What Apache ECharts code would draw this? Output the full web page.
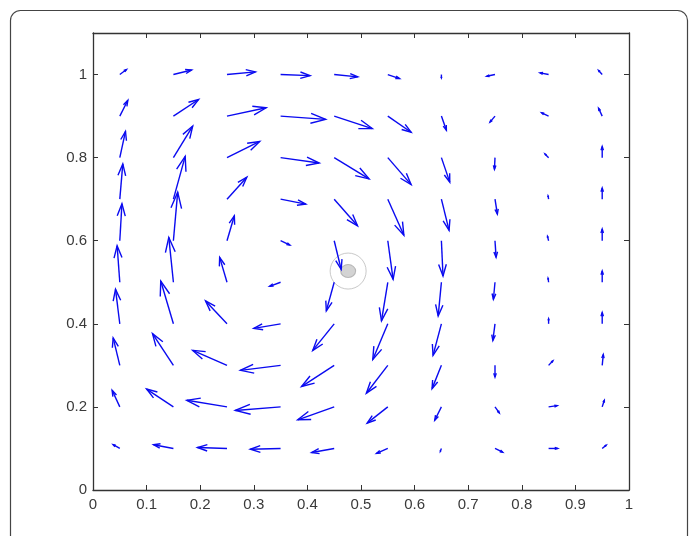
<!DOCTYPE html>
<html>
<head>
<meta charset="utf-8">
<script src="https://cdn.jsdelivr.net/npm/echarts@6/dist/echarts.min.js"></script>
<style>
  html, body { margin: 0; padding: 0; background: #fff; }
  #chart { width: 689px; height: 536px; }
</style>
</head>
<body>
<div id="chart"></div>
<script>
// grid positions of the arrow tails
var xs = [0.05, 0.15, 0.25, 0.35, 0.45, 0.55, 0.65, 0.75, 0.85, 0.95];
var ys = [0.1, 0.2, 0.3, 0.4, 0.5, 0.6, 0.7, 0.8, 0.9, 1.0];

// velocity components, one row per y (bottom to top), one column per x
var U = [
  [-0.0124, -0.037, -0.055, -0.0565, -0.042, -0.021, -0.002, 0.0143, 0.017, 0.0075],
  [-0.0143, -0.050, -0.075, -0.0845, -0.068, -0.0385, -0.0124, 0.008, 0.016, 0.004],
  [-0.0124, -0.039, -0.064, -0.075, -0.061, -0.040, -0.0174, 0.0, 0.008, 0.002],
  [-0.008, -0.0236, -0.040, -0.050, -0.040, -0.028, -0.0156, -0.004, 0.0, 0.0],
  [-0.005, -0.0086, -0.0137, -0.0205, -0.0147, -0.0118, -0.006, -0.003, -0.001, 0.0],
  [0.004, 0.008, 0.0137, 0.0174, 0.013, 0.0099, 0.003, 0.002, -0.002, 0.0],
  [0.0056, 0.022, 0.037, 0.047, 0.0435, 0.030, 0.0143, 0.0044, -0.001, 0.0],
  [0.0106, 0.036, 0.061, 0.072, 0.065, 0.0435, 0.0156, -0.001, -0.0068, 0.0],
  [0.015, 0.047, 0.073, 0.084, 0.071, 0.0435, 0.0093, -0.0093, -0.013, -0.0068],
  [0.0125, 0.034, 0.053, 0.055, 0.044, 0.022, 0.0, -0.0155, -0.016, -0.0068]
];
var V = [
  [0.009, 0.009, 0.0024, -0.002, -0.0097, -0.012, -0.007, -0.009, 0.0, 0.008],
  [0.040, 0.043, 0.016, -0.0085, -0.031, -0.039, -0.032, -0.0145, 0.003, 0.016],
  [0.066, 0.0765, 0.036, -0.012, -0.051, -0.067, -0.056, -0.028, 0.011, 0.026],
  [0.083, 0.103, 0.055, -0.011, -0.064, -0.086, -0.076, -0.040, 0.012, 0.027],
  [0.088, 0.108, 0.060, -0.0097, -0.069, -0.093, -0.081, -0.041, 0.010, 0.027],
  [0.089, 0.117, 0.060, -0.0105, -0.069, -0.093, -0.085, -0.040, 0.0105, 0.028],
  [0.085, 0.103, 0.053, -0.012, -0.064, -0.087, -0.075, -0.036, 0.008, 0.027],
  [0.063, 0.076, 0.039, -0.013, -0.051, -0.065, -0.059, -0.028, 0.0089, 0.0266],
  [0.038, 0.040, 0.020, -0.008, -0.030, -0.039, -0.034, -0.0145, 0.008, 0.019],
  [0.012, 0.011, 0.0065, -0.0025, -0.0056, -0.0097, -0.008, -0.004, 0.004, 0.0097]
];

// marked point (ring + dot)
var marker = [0.476, 0.527];

var xTicks = [0, 0.1, 0.2, 0.3, 0.4, 0.5, 0.6, 0.7, 0.8, 0.9, 1];
var yTicks = [0, 0.2, 0.4, 0.6, 0.8, 1];

var arrows = [];
for (var i = 0; i < ys.length; i++) {
  for (var j = 0; j < xs.length; j++) {
    arrows.push([xs[j], ys[i], U[i][j], V[i][j]]);
  }
}

var blue = '#0a0af0';
var axisColor = '#333';

function renderArrow(params, api) {
  var x = api.value(0), y = api.value(1);
  var p0 = api.coord([x, y]);
  var p1 = api.coord([x + api.value(2), y + api.value(3)]);
  var du = p1[0] - p0[0], dv = p1[1] - p0[1];
  // matlab quiver style head
  var a = 0.33, b = 0.33;
  var h1 = [p1[0] - a * (du + b * dv), p1[1] - a * (dv - b * du)];
  var h2 = [p1[0] - a * (du - b * dv), p1[1] - a * (dv + b * du)];
  var st = { stroke: blue, lineWidth: 1.4, fill: null };
  return {
    type: 'group',
    children: [
      { type: 'polyline', shape: { points: [p0, p1] }, style: st },
      { type: 'polyline', shape: { points: [h1, p1, h2] }, style: st }
    ]
  };
}

function makeAxis(pos, min, max, interval, ticks, showLabel) {
  return {
    type: 'value',
    position: pos,
    min: min, max: max, interval: interval,
    axisLine: { show: true, onZero: false, lineStyle: { color: axisColor, width: 1.3 } },
    axisTick: { show: true, inside: true, length: 5, customValues: ticks, lineStyle: { color: axisColor } },
    axisLabel: {
      show: showLabel,
      customValues: ticks,
      color: '#3a3a3a',
      fontSize: 15,
      fontFamily: 'Liberation Sans, Arial',
      margin: pos == 'bottom' ? 7 : 6
    },
    splitLine: { show: false }
  };
}

var chart = echarts.init(document.getElementById('chart'));
chart.setOption({
  animation: false,
  backgroundColor: '#fff',
  graphic: [{
    type: 'rect',
    shape: { x: 10.5, y: 10.5, width: 677, height: 600, r: 10 },
    style: { fill: null, stroke: '#444', lineWidth: 1.2 },
    silent: true
  }],
  grid: { left: 93, top: 33, right: 60, bottom: 46 },
  xAxis: [
    makeAxis('bottom', 0, 1, 0.1, xTicks, true),
    makeAxis('top', 0, 1, 0.1, xTicks, false)
  ],
  yAxis: [
    makeAxis('left', 0, 1.1, 0.2, yTicks, true),
    makeAxis('right', 0, 1.1, 0.2, yTicks, false)
  ],
  series: [
    {
      type: 'scatter',
      xAxisIndex: 0, yAxisIndex: 0,
      data: [marker],
      symbol: 'circle',
      symbolSize: 36,
      itemStyle: { color: 'rgba(255,255,255,0)', borderColor: '#bbb', borderWidth: 1 },
      silent: true, z: 1
    },
    {
      type: 'scatter',
      xAxisIndex: 0, yAxisIndex: 0,
      data: [marker],
      symbol: 'circle',
      symbolSize: [15, 13],
      itemStyle: { color: '#c8c8c8', borderColor: '#aaa', borderWidth: 1 },
      silent: true, z: 1
    },
    {
      type: 'custom',
      xAxisIndex: 0, yAxisIndex: 0,
      data: arrows,
      encode: { x: 0, y: 1 },
      renderItem: renderArrow,
      silent: true, z: 2
    }
  ]
});
</script>
</body>
</html>
